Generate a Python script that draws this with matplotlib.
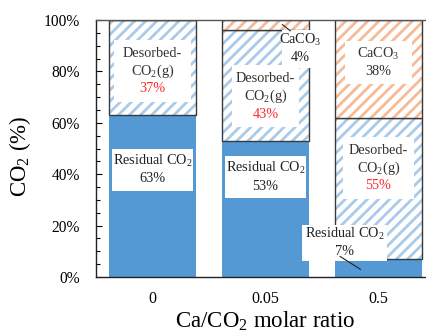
import matplotlib
matplotlib.use("Agg")
import matplotlib.pyplot as plt
import numpy as np
from matplotlib.ticker import MultipleLocator, PercentFormatter

plt.rcParams['font.family'] = ['Liberation Serif', 'DejaVu Serif']
plt.rcParams['mathtext.fontset'] = 'custom'
plt.rcParams['mathtext.rm'] = 'Liberation Serif'
plt.rcParams['mathtext.it'] = 'Liberation Serif:italic'
plt.rcParams['hatch.linewidth'] = 2.0

categories = ['0', '0.05', '0.5']
residual = [63, 53, 7]
desorbed = [37, 43, 55]
caco3 = [0, 4, 38]

x = np.arange(len(categories)) + 0.5

fig = plt.figure(figsize=(4.26, 3.34), dpi=100)
ax = fig.add_axes([96/426, 57/334, 339/426, 257/334])

blue = '#5599d4'
hb = '#a9cbe9'
ho = '#f5bb96'
edge = '#3a3a3a'
w = 0.77

ax.bar(x, residual, w, color=blue, edgecolor='none')
b_des = np.array(residual)
ax.bar(x, desorbed, w, bottom=b_des, facecolor='white', edgecolor=hb, hatch='///', lw=0)
ax.bar(x, desorbed, w, bottom=b_des, facecolor='none', edgecolor=edge, lw=1.0)
b_ca = b_des + np.array(desorbed)
ax.bar(x, caco3, w, bottom=b_ca, facecolor='white', edgecolor=ho, hatch='///', lw=0)
ax.bar(x, caco3, w, bottom=b_ca, facecolor='none', edgecolor=edge, lw=1.0)

ax.set_xlim(0, 3)
ax.set_ylim(0, 100)
ax.set_xticks(x)
ax.set_xticklabels(categories, fontsize=11.5)
ax.yaxis.set_major_locator(MultipleLocator(20))
ax.yaxis.set_minor_locator(MultipleLocator(5))
ax.yaxis.set_major_formatter(PercentFormatter(decimals=0))
ax.tick_params(axis='y', which='both', direction='in', labelsize=11.2, length=4, width=0.8, right=False, pad=11.5)
ax.tick_params(axis='y', which='minor', length=3)
ax.tick_params(axis='x', length=0, pad=10)
for s in ax.spines.values():
    s.set_color('#555555')
    s.set_linewidth(1.0)
ax.spines['left'].set_color('#222222')
ax.spines['bottom'].set_color('#222222')

ax.set_ylabel('CO$_2$ (%)', fontsize=16.5)
ax.yaxis.set_label_coords(-0.185, 0.47)
ax.set_xlabel('Ca/CO$_2$ molar ratio', fontsize=16.5, labelpad=2)

fs = 10.3

def label(xp, yp, lines, colors):
    n = len(lines)
    sp = 6.9
    for i, (t, c) in enumerate(zip(lines, colors)):
        yy = yp + (n - 1) / 2 * sp - i * sp
        ax.text(xp, yy, t, ha='center', va='center', fontsize=fs, color=c, zorder=5)

def bgbox(xc, yc, wd, ht):
    ax.add_patch(plt.Rectangle((xc - wd/2, yc - ht/2), wd, ht, facecolor='white', edgecolor='none', zorder=4))

# bar 0
bgbox(x[0], 80.2, 0.69, 24)
label(x[0], 80.2, ['Desorbed-', 'CO$_2$(g)', f'{desorbed[0]}%'], ['#333333', '#333333', '#ff2a2a'])
bgbox(x[0], 41.6, 0.72, 16.5)
label(x[0], 41.6, ['Residual CO$_2$', f'{residual[0]}%'], ['#222222', '#222222'])
# bar 1
bgbox(x[1], 70.3, 0.6, 24)
label(x[1], 70.3, ['Desorbed-', 'CO$_2$(g)', f'{desorbed[1]}%'], ['#333333', '#333333', '#ff2a2a'])
bgbox(x[1], 38.8, 0.72, 16.5)
label(x[1], 38.8, ['Residual CO$_2$', f'{residual[1]}%'], ['#222222', '#222222'])
bgbox(x[1] + 0.31, 88.8, 0.33, 15)
label(x[1] + 0.31, 88.8, ['CaCO$_3$', f'{caco3[1]}%'], ['#222222', '#222222'])
ax.plot([x[1] + 0.15, x[1] + 0.22], [98.2, 95.8], color='#222222', lw=0.8, zorder=6)
# bar 2
bgbox(x[2], 83.5, 0.6, 16.5)
label(x[2], 83.5, ['CaCO$_3$', f'{caco3[2]}%'], ['#333333', '#333333'])
bgbox(x[2], 42.4, 0.62, 24)
label(x[2], 42.4, ['Desorbed-', 'CO$_2$(g)', f'{desorbed[2]}%'], ['#333333', '#333333', '#ff2a2a'])
bgbox(x[2] - 0.3, 13.4, 0.75, 14)
label(x[2] - 0.3, 13.4, ['Residual CO$_2$', f'{residual[2]}%'], ['#222222', '#222222'])
ax.plot([x[2] - 0.34, x[2] - 0.16], [8.0, 3.0], color='#222222', lw=0.8, zorder=6)

fig.savefig('out.png', dpi=100)
